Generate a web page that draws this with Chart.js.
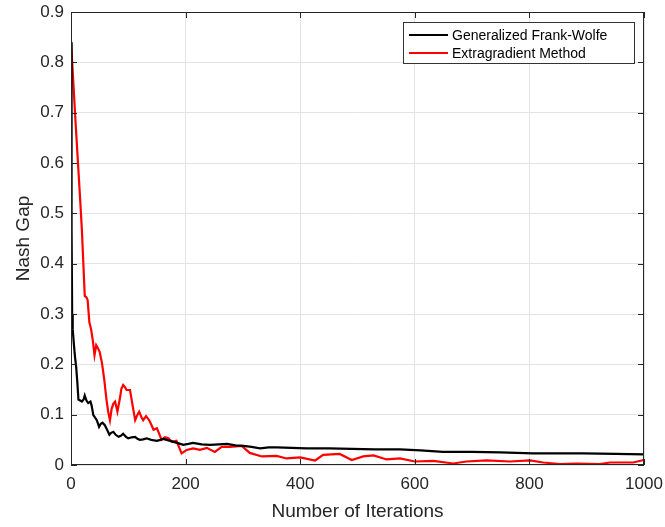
<!DOCTYPE html>
<html>
<head>
<meta charset="utf-8">
<script src="https://cdn.jsdelivr.net/npm/chart.js@4/dist/chart.umd.min.js"></script>
<style>
  html, body { margin: 0; padding: 0; background: #fff; }
  #wrap { width: 665px; height: 527px; }
</style>
</head>
<body>
<div id="wrap"><canvas id="gapChart"></canvas></div>
<script>
// Nash gap vs iterations
const seriesNames = ['Generalized Frank-Wolfe', 'Extragradient Method'];
const xTicks = [0, 200, 400, 600, 800, 1000];
const yTicks = [0, 0.1, 0.2, 0.3, 0.4, 0.5, 0.6, 0.7, 0.8, 0.9];

const gfwIter = [0, 1, 2, 3, 5, 7, 9, 11, 13, 16, 19, 22, 24, 27, 30, 34, 36, 39, 42, 45, 49, 52, 55, 59, 63, 67, 70, 74, 78, 83, 87, 91, 96, 100, 106, 112, 116, 120, 126, 132, 140, 150, 156, 161, 170, 179, 188, 196, 205, 213, 228, 243, 258, 272, 287, 301, 315, 330, 345, 359, 385, 411, 450, 490, 530, 574, 610, 649, 700, 749, 806, 850, 894, 950, 1000];
const gfwGap = [0.84, 0.47, 0.30, 0.27, 0.24, 0.215, 0.195, 0.165, 0.13, 0.128, 0.126, 0.13, 0.138, 0.128, 0.123, 0.126, 0.118, 0.099, 0.094, 0.089, 0.076, 0.082, 0.084, 0.079, 0.07, 0.06, 0.064, 0.066, 0.06, 0.056, 0.058, 0.062, 0.056, 0.053, 0.055, 0.056, 0.052, 0.05, 0.051, 0.053, 0.05, 0.048, 0.05, 0.052, 0.049, 0.046, 0.043, 0.040, 0.042, 0.044, 0.041, 0.040, 0.041, 0.042, 0.039, 0.038, 0.036, 0.033, 0.035, 0.035, 0.034, 0.033, 0.033, 0.032, 0.031, 0.031, 0.029, 0.026, 0.026, 0.025, 0.023, 0.023, 0.023, 0.022, 0.021];

const egIter = [0, 8, 16, 19, 24, 27, 29, 32, 35, 38, 41, 44, 47, 50, 54, 58, 62, 65, 68, 71, 74, 77, 81, 85, 88, 91, 94, 97, 103, 108, 112, 116, 119, 123, 126, 131, 137, 141, 144, 150, 154, 158, 164, 170, 176, 184, 193, 202, 213, 225, 237, 251, 263, 277, 298, 312, 333, 359, 376, 400, 426, 440, 469, 490, 510, 528, 551, 574, 600, 632, 667, 690, 725, 766, 801, 824, 853, 882, 923, 941, 981, 1000];
const egGap = [0.842, 0.68, 0.527, 0.467, 0.336, 0.333, 0.328, 0.284, 0.27, 0.248, 0.218, 0.238, 0.232, 0.225, 0.203, 0.17, 0.129, 0.105, 0.089, 0.112, 0.122, 0.126, 0.106, 0.13, 0.152, 0.159, 0.155, 0.149, 0.149, 0.115, 0.089, 0.1, 0.106, 0.095, 0.089, 0.097, 0.088, 0.078, 0.07, 0.073, 0.062, 0.05, 0.055, 0.053, 0.046, 0.048, 0.023, 0.030, 0.033, 0.030, 0.034, 0.026, 0.036, 0.036, 0.038, 0.024, 0.017, 0.018, 0.013, 0.015, 0.009, 0.020, 0.022, 0.010, 0.017, 0.019, 0.011, 0.013, 0.007, 0.008, 0.003, 0.007, 0.009, 0.007, 0.009, 0.005, 0.002, 0.003, 0.002, 0.005, 0.005, 0.010];

const colors = ['#000000', '#ff0000'];
const FONT = '"Liberation Sans", Arial, Helvetica, sans-serif';
const AXIS = '#262626';

function toPoints(xs, ys) {
  return xs.map((x, i) => ({ x: x, y: ys[i] }));
}

// box, inside tick marks and legend in MATLAB style
const matlabFrame = {
  id: 'matlabFrame',
  afterDraw(chart) {
    const ctx = chart.ctx;
    const a = chart.chartArea;
    const xs = chart.scales.x, ys = chart.scales.y;
    ctx.save();
    ctx.strokeStyle = AXIS;
    ctx.lineWidth = 1;
    ctx.strokeRect(a.left + 0.5, a.top + 0.5, a.right - a.left - 1, a.bottom - a.top - 1);
    ctx.beginPath();
    xTicks.forEach(v => {
      const px = Math.round(xs.getPixelForValue(v)) + 0.5;
      ctx.moveTo(px, a.bottom); ctx.lineTo(px, a.bottom - 6);
      ctx.moveTo(px, a.top); ctx.lineTo(px, a.top + 6);
    });
    yTicks.forEach(v => {
      const py = Math.round(ys.getPixelForValue(v)) + 0.5;
      ctx.moveTo(a.left, py); ctx.lineTo(a.left + 6, py);
      ctx.moveTo(a.right, py); ctx.lineTo(a.right - 6, py);
    });
    ctx.stroke();

    // legend
    const bx = 403, by = 22, bw = 231, bh = 41;
    ctx.fillStyle = '#fff';
    ctx.fillRect(bx, by, bw, bh);
    ctx.strokeStyle = '#333';
    ctx.strokeRect(bx + 0.5, by + 0.5, bw, bh);
    ctx.font = '14px ' + FONT;
    ctx.textBaseline = 'middle';
    seriesNames.forEach((name, i) => {
      const ry = by + 13 + i * 18;
      ctx.strokeStyle = colors[i];
      ctx.lineWidth = 2;
      ctx.beginPath();
      ctx.moveTo(bx + 6, ry); ctx.lineTo(bx + 45, ry);
      ctx.stroke();
      ctx.fillStyle = '#000';
      ctx.fillText(name, bx + 49, ry + 1);
    });
    ctx.restore();
  }
};

const ctx = document.getElementById('gapChart').getContext('2d');
new Chart(ctx, {
  type: 'line',
  data: {
    datasets: [
      { label: seriesNames[0], data: toPoints(gfwIter, gfwGap), borderColor: colors[0], borderWidth: 2.2, pointRadius: 0, tension: 0 },
      { label: seriesNames[1], data: toPoints(egIter, egGap), borderColor: colors[1], borderWidth: 2.2, pointRadius: 0, tension: 0 }
    ]
  },
  options: {
    responsive: true,
    maintainAspectRatio: false,
    animation: false,
    layout: { autoPadding: false, padding: { left: 0, right: 21, top: 12, bottom: 0 } },
    plugins: { legend: { display: false }, tooltip: { enabled: false } },
    scales: {
      x: {
        type: 'linear', min: 0, max: 1000,
        afterBuildTicks: s => { s.ticks = xTicks.map(v => ({ value: v })); },
        afterFit: s => { s.height = 62; s.paddingLeft = 0; s.paddingRight = 0; },
        grid: { color: '#e3e3e3', drawTicks: false },
        border: { display: false },
        ticks: { color: AXIS, padding: 9, font: { family: FONT, size: 17 }, callback: v => String(v) },
        title: { display: true, text: 'Number of Iterations', color: AXIS, padding: { top: 0, bottom: 4 }, font: { family: FONT, size: 19 } }
      },
      y: {
        type: 'linear', min: 0, max: 0.9,
        afterBuildTicks: s => { s.ticks = yTicks.map(v => ({ value: v })); },
        afterFit: s => { s.width = 71; s.paddingTop = 0; s.paddingBottom = 0; },
        grid: { color: '#e3e3e3', drawTicks: false },
        border: { display: false },
        ticks: { color: AXIS, padding: 7, font: { family: FONT, size: 17 }, callback: v => String(v) },
        title: { display: true, text: 'Nash Gap', color: AXIS, padding: { top: 12, bottom: 0 }, font: { family: FONT, size: 19 } }
      }
    }
  },
  plugins: [matlabFrame]
});
</script>
</body>
</html>
